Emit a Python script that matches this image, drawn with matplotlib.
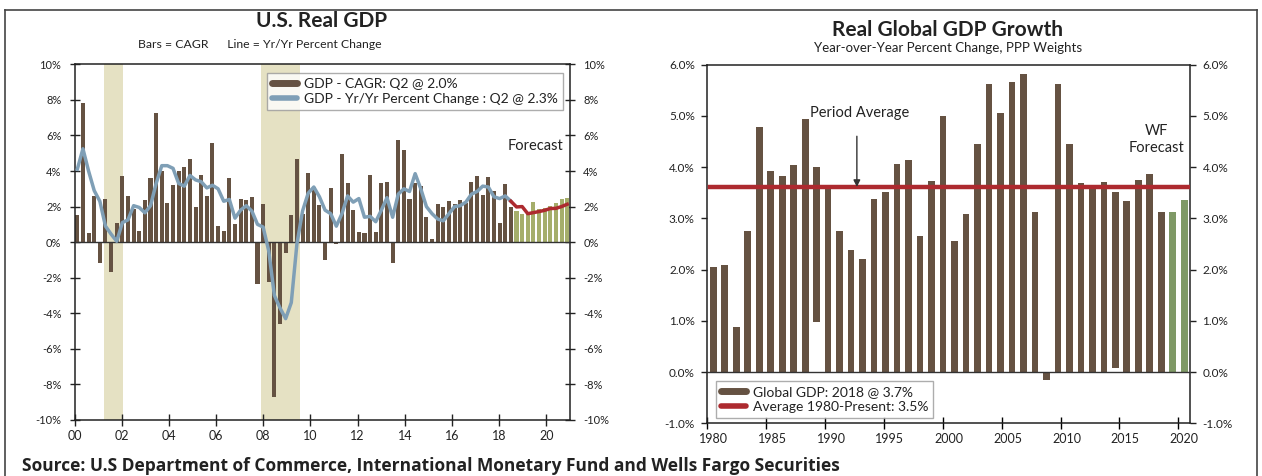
import numpy as np
import matplotlib
matplotlib.use("Agg")
import matplotlib.pyplot as plt
from matplotlib.lines import Line2D

plt.rcParams['font.family'] = ['Lato', 'DejaVu Sans']

# ---------------- data: U.S. real GDP ----------------
us_cagr_actual = [1.5, 7.8, 0.5, 2.6,
                  -1.2, 2.45, -1.7, 1.1,
                  3.7, 2.6, 1.85, 0.65,
                  2.35, 3.6, 7.25, 4.0,
                  2.2, 3.2, 4.0, 4.25,
                  4.65, 1.95, 3.75, 2.6,
                  5.6, 0.9, 0.65, 3.6,
                  1.0, 2.4, 2.35, 2.55,
                  -2.35, 2.15, -2.25, -8.7,
                  -4.6, -0.6, 1.55, 4.65,
                  1.6, 3.9, 3.1, 2.1,
                  -1.0, 3.05, -0.1, 4.95,
                  3.35, 1.8, 0.55, 0.5,
                  3.75, 0.55, 3.35, 3.4,
                  -1.2, 5.75, 5.2, 2.4,
                  3.35, 3.15, 1.4, 0.15,
                  2.15, 2.0, 2.3, 2.15,
                  2.35, 2.2, 3.4, 3.7,
                  2.65, 3.65, 2.9, 1.1,
                  3.25, 2.0]
us_cagr_forecast = [1.75, 1.6, 1.65, 2.25, 1.85, 1.9, 2.05, 2.2, 2.4, 2.5]
us_yoy_actual = [4.1, 5.25, 4.0, 2.9,
                 2.3, 0.9, 0.45, 0.05,
                 1.1, 1.25, 2.05, 1.95,
                 1.65, 2.05, 3.3, 4.3,
                 4.3, 4.15, 3.3, 3.15,
                 3.75, 3.5, 3.4, 3.05,
                 3.2, 3.0, 2.3, 2.4,
                 1.35, 1.8, 2.05, 1.75,
                 1.0, 0.85, -0.5, -3.0,
                 -3.7, -4.3, -3.4, -0.1,
                 1.75, 2.75, 3.1, 2.55,
                 1.8, 1.6, 0.9, 1.6,
                 2.6, 2.25, 2.45, 1.4,
                 1.45, 1.15, 1.8, 2.5,
                 1.4, 2.7, 3.0, 2.85,
                 3.85, 3.0, 2.0, 1.6,
                 1.3, 1.2, 1.6, 2.0,
                 2.05, 2.25, 2.7, 2.85,
                 3.15, 3.1, 2.55, 2.45,
                 2.6, 2.3]
us_yoy_forecast = [1.98, 2.0, 1.6, 1.66, 1.72, 1.79, 1.89, 1.9, 2.0, 2.13]
# recession shading, in quarter-index units
recessions = [(4.74, 8.11), (32.6, 39.5)]
us_tick_years = [2000, 2002, 2004, 2006, 2008, 2010, 2012, 2014, 2016, 2018, 2020]
us_tick_labels = ['00', '02', '04', '06', '08', '10', '12', '14', '16', '18', '20']
us_axis_years = (2000, 2021)

# ---------------- data: global GDP ----------------
glob_years = list(range(1980, 2022))
glob_growth = [2.05, 2.09, 0.88, 2.75, 4.79, 3.93, 3.82, 4.03, 4.93, 4.0,
               3.58, 2.75, 2.38, 2.2, 3.37, 3.51, 4.05, 4.13, 2.65, 3.72,
               5.0, 2.55, 3.08, 4.45, 5.62, 5.06, 5.66, 5.82, 3.13, -0.15,
               5.62, 4.45, 3.68, 3.6, 3.70, 3.52, 3.33, 3.75, 3.86, 3.13,
               3.13, 3.35]
glob_base = [0.0] * 42
glob_base[9] = 0.97
glob_base[35] = 0.08
glob_forecast_from = 2020
glob_average = 3.61
glob_tick_years = [1980, 1985, 1990, 1995, 2000, 2005, 2010, 2015, 2020]

# ---------------- style ----------------
BROWN = '#655242'
GREEN_L = '#a5ae6b'
GREEN_R = '#7f9966'
BLUE = '#7f9fb6'
RED = '#ad2a2f'
SHADE = '#e5e1c3'
TXT = '#222222'

W, H = 1262, 476
fig = plt.figure(figsize=(W / 100, H / 100), dpi=100)

# ================= left chart =================
ax1 = fig.add_axes([74.5 / W, 1 - 420 / H, (570 - 74.5) / W, (420 - 64.3) / H])
n_act = len(us_cagr_actual)
n_tot = n_act + len(us_cagr_forecast)
xa = np.arange(n_act)
xf = np.arange(n_act, n_tot)
for a, b in recessions:
    ax1.axvspan(a, b, color=SHADE, lw=0, zorder=0)
ax1.bar(xa, us_cagr_actual, width=0.72, color=BROWN, zorder=2)
ax1.bar(xf, us_cagr_forecast, width=0.72, color=GREEN_L, zorder=2)
ax1.axhline(0, color='#333333', lw=1.0, zorder=3)
ax1.plot(xa, us_yoy_actual, color=BLUE, lw=2.5, zorder=4, solid_joinstyle='round')
ax1.plot(np.arange(n_act - 1, n_tot), [us_yoy_actual[-1]] + us_yoy_forecast,
         color=RED, lw=2.5, zorder=4)
ax1.set_xlim(-0.5, n_tot - 0.5)
ax1.set_ylim(-10, 10)
span = us_axis_years[1] - us_axis_years[0]
xt = [-0.5 + (y - us_axis_years[0]) * n_tot / span for y in us_tick_years]
ax1.set_xticks(xt)
ax1.set_xticklabels(us_tick_labels)
ax1.set_yticks(np.arange(-10, 11, 2))
ax1.set_yticklabels([f'{v}%' for v in range(-10, 11, 2)])
ax1.tick_params(axis='y', which='both', direction='inout', length=7, width=1,
                left=True, right=True, labelleft=True, labelright=True,
                labelsize=8, colors=TXT, pad=6)
ax1.tick_params(axis='x', direction='inout', length=8, width=1, labelsize=9,
                colors=TXT, pad=3)
for s in ax1.spines.values():
    s.set_color('#222222')
    s.set_linewidth(1.1)
ax1.text(81.3, 5.4, 'Forecast', ha='center', va='center', fontsize=10.5, color=TXT)
h1 = [Line2D([], [], color=BROWN, lw=5, solid_capstyle='round'),
      Line2D([], [], color=BLUE, lw=4, solid_capstyle='round')]
leg1 = ax1.legend(h1, ['GDP - CAGR: Q2 @ 2.0%', 'GDP - Yr/Yr Percent Change : Q2 @ 2.3%'],
                  loc='upper right', bbox_to_anchor=(0.985, 0.975), borderaxespad=0,
                  fontsize=10, frameon=True, fancybox=False, handlelength=1.8,
                  handletextpad=0.5, labelspacing=0.2, borderpad=0.35)
leg1.get_frame().set_edgecolor('#999999')
leg1.get_frame().set_linewidth(1.0)
for t in leg1.get_texts():
    t.set_color(TXT)
fig.text(322 / W, 1 - 21 / H, 'U.S. Real GDP', ha='center', va='center',
         fontsize=15, fontweight='bold', color=TXT)
fig.text(260 / W, 1 - 45 / H, 'Bars = CAGR      Line = Yr/Yr Percent Change',
         ha='center', va='center', fontsize=8.8, color=TXT)

# ================= right chart =================
ax2 = fig.add_axes([707.3 / W, 1 - 423.3 / H, (1190 - 707.3) / W, (423.3 - 64.5) / H])
ng = len(glob_years)
xg = np.arange(ng)
heights = [g - b for g, b in zip(glob_growth, glob_base)]
cols = [GREEN_R if y >= glob_forecast_from else BROWN for y in glob_years]
ax2.bar(xg, heights, bottom=glob_base, width=0.58, color=cols, zorder=2)
ax2.axhline(0, color='#333333', lw=1.0, zorder=3)
ax2.plot([-0.27, ng - 0.7], [glob_average, glob_average], color=RED, lw=3.2, zorder=4)
ax2.set_xlim(-0.5, ng - 0.5)
ax2.set_ylim(-1, 6)
gspan = glob_tick_years[-1] - glob_tick_years[0]
lab_pos = [(y - glob_tick_years[0]) * (ng - 1) / gspan for y in glob_tick_years]
ax2.set_xticks(lab_pos)
ax2.set_xticklabels([str(y) for y in glob_tick_years])
ax2.set_xticks([p - 0.52 for p in lab_pos], minor=True)
ax2.tick_params(axis='x', which='major', length=0, labelsize=9, colors=TXT, pad=7)
ax2.tick_params(axis='x', which='minor', direction='inout', length=8, width=1)
ax2.set_yticks(np.arange(-1, 6.01, 1))
ax2.set_yticklabels([f'{v:.1f}%' for v in np.arange(-1, 6.01, 1)])
ax2.tick_params(axis='y', direction='out', length=4, width=1, left=True, right=True,
                labelleft=True, labelright=True, labelsize=8.5, colors=TXT, pad=5)
for s in ax2.spines.values():
    s.set_color('#222222')
    s.set_linewidth(1.1)
ax2.text(12.7, 5.05, 'Period Average', ha='center', va='center', fontsize=10.5, color=TXT)
ax2.annotate('', xy=(12.5, glob_average), xytext=(12.5, 4.6),
             arrowprops=dict(arrowstyle='-|>', color='#333333', lw=1.0,
                             mutation_scale=10, shrinkA=0, shrinkB=0), zorder=5)
ax2.text(38.6, 4.53, 'WF\nForecast', ha='center', va='center', fontsize=10.5,
         color=TXT, linespacing=1.25)
h2 = [Line2D([], [], color=BROWN, lw=5, solid_capstyle='round'),
      Line2D([], [], color=RED, lw=4, solid_capstyle='round')]
leg2 = ax2.legend(h2, ['Global GDP: 2018 @ 3.7%', 'Average 1980-Present: 3.5%'],
                  loc='lower left', bbox_to_anchor=(0.018, 0.015), borderaxespad=0,
                  fontsize=10, frameon=True, fancybox=False, handlelength=1.8,
                  handletextpad=0.5, labelspacing=0.2, borderpad=0.35)
leg2.get_frame().set_edgecolor('#999999')
leg2.get_frame().set_linewidth(1.0)
for t in leg2.get_texts():
    t.set_color(TXT)
fig.text(948 / W, 1 - 30 / H, 'Real Global GDP Growth', ha='center', va='center',
         fontsize=15, fontweight='bold', color=TXT)
fig.text(948 / W, 1 - 48 / H, 'Year-over-Year Percent Change, PPP Weights',
         ha='center', va='center', fontsize=9.5, color=TXT)

# ================= frame & source =================
fig.add_artist(plt.Line2D([5 / W, 5 / W], [0, 1 - 10 / H], color='#444444', lw=1.2))
fig.add_artist(plt.Line2D([5 / W, 1257 / W], [1 - 10 / H, 1 - 10 / H], color='#444444', lw=1.2))
fig.add_artist(plt.Line2D([1257 / W, 1257 / W], [0, 1 - 10 / H], color='#444444', lw=1.2))
fig.text(22 / W, 1 - 466 / H,
         'Source: U.S Department of Commerce, International Monetary Fund and Wells Fargo Securities',
         ha='left', va='center', fontsize=12.5, fontweight='bold', color=TXT,
         family=['Open Sans', 'DejaVu Sans'])

fig.savefig('out.png', dpi=100)
